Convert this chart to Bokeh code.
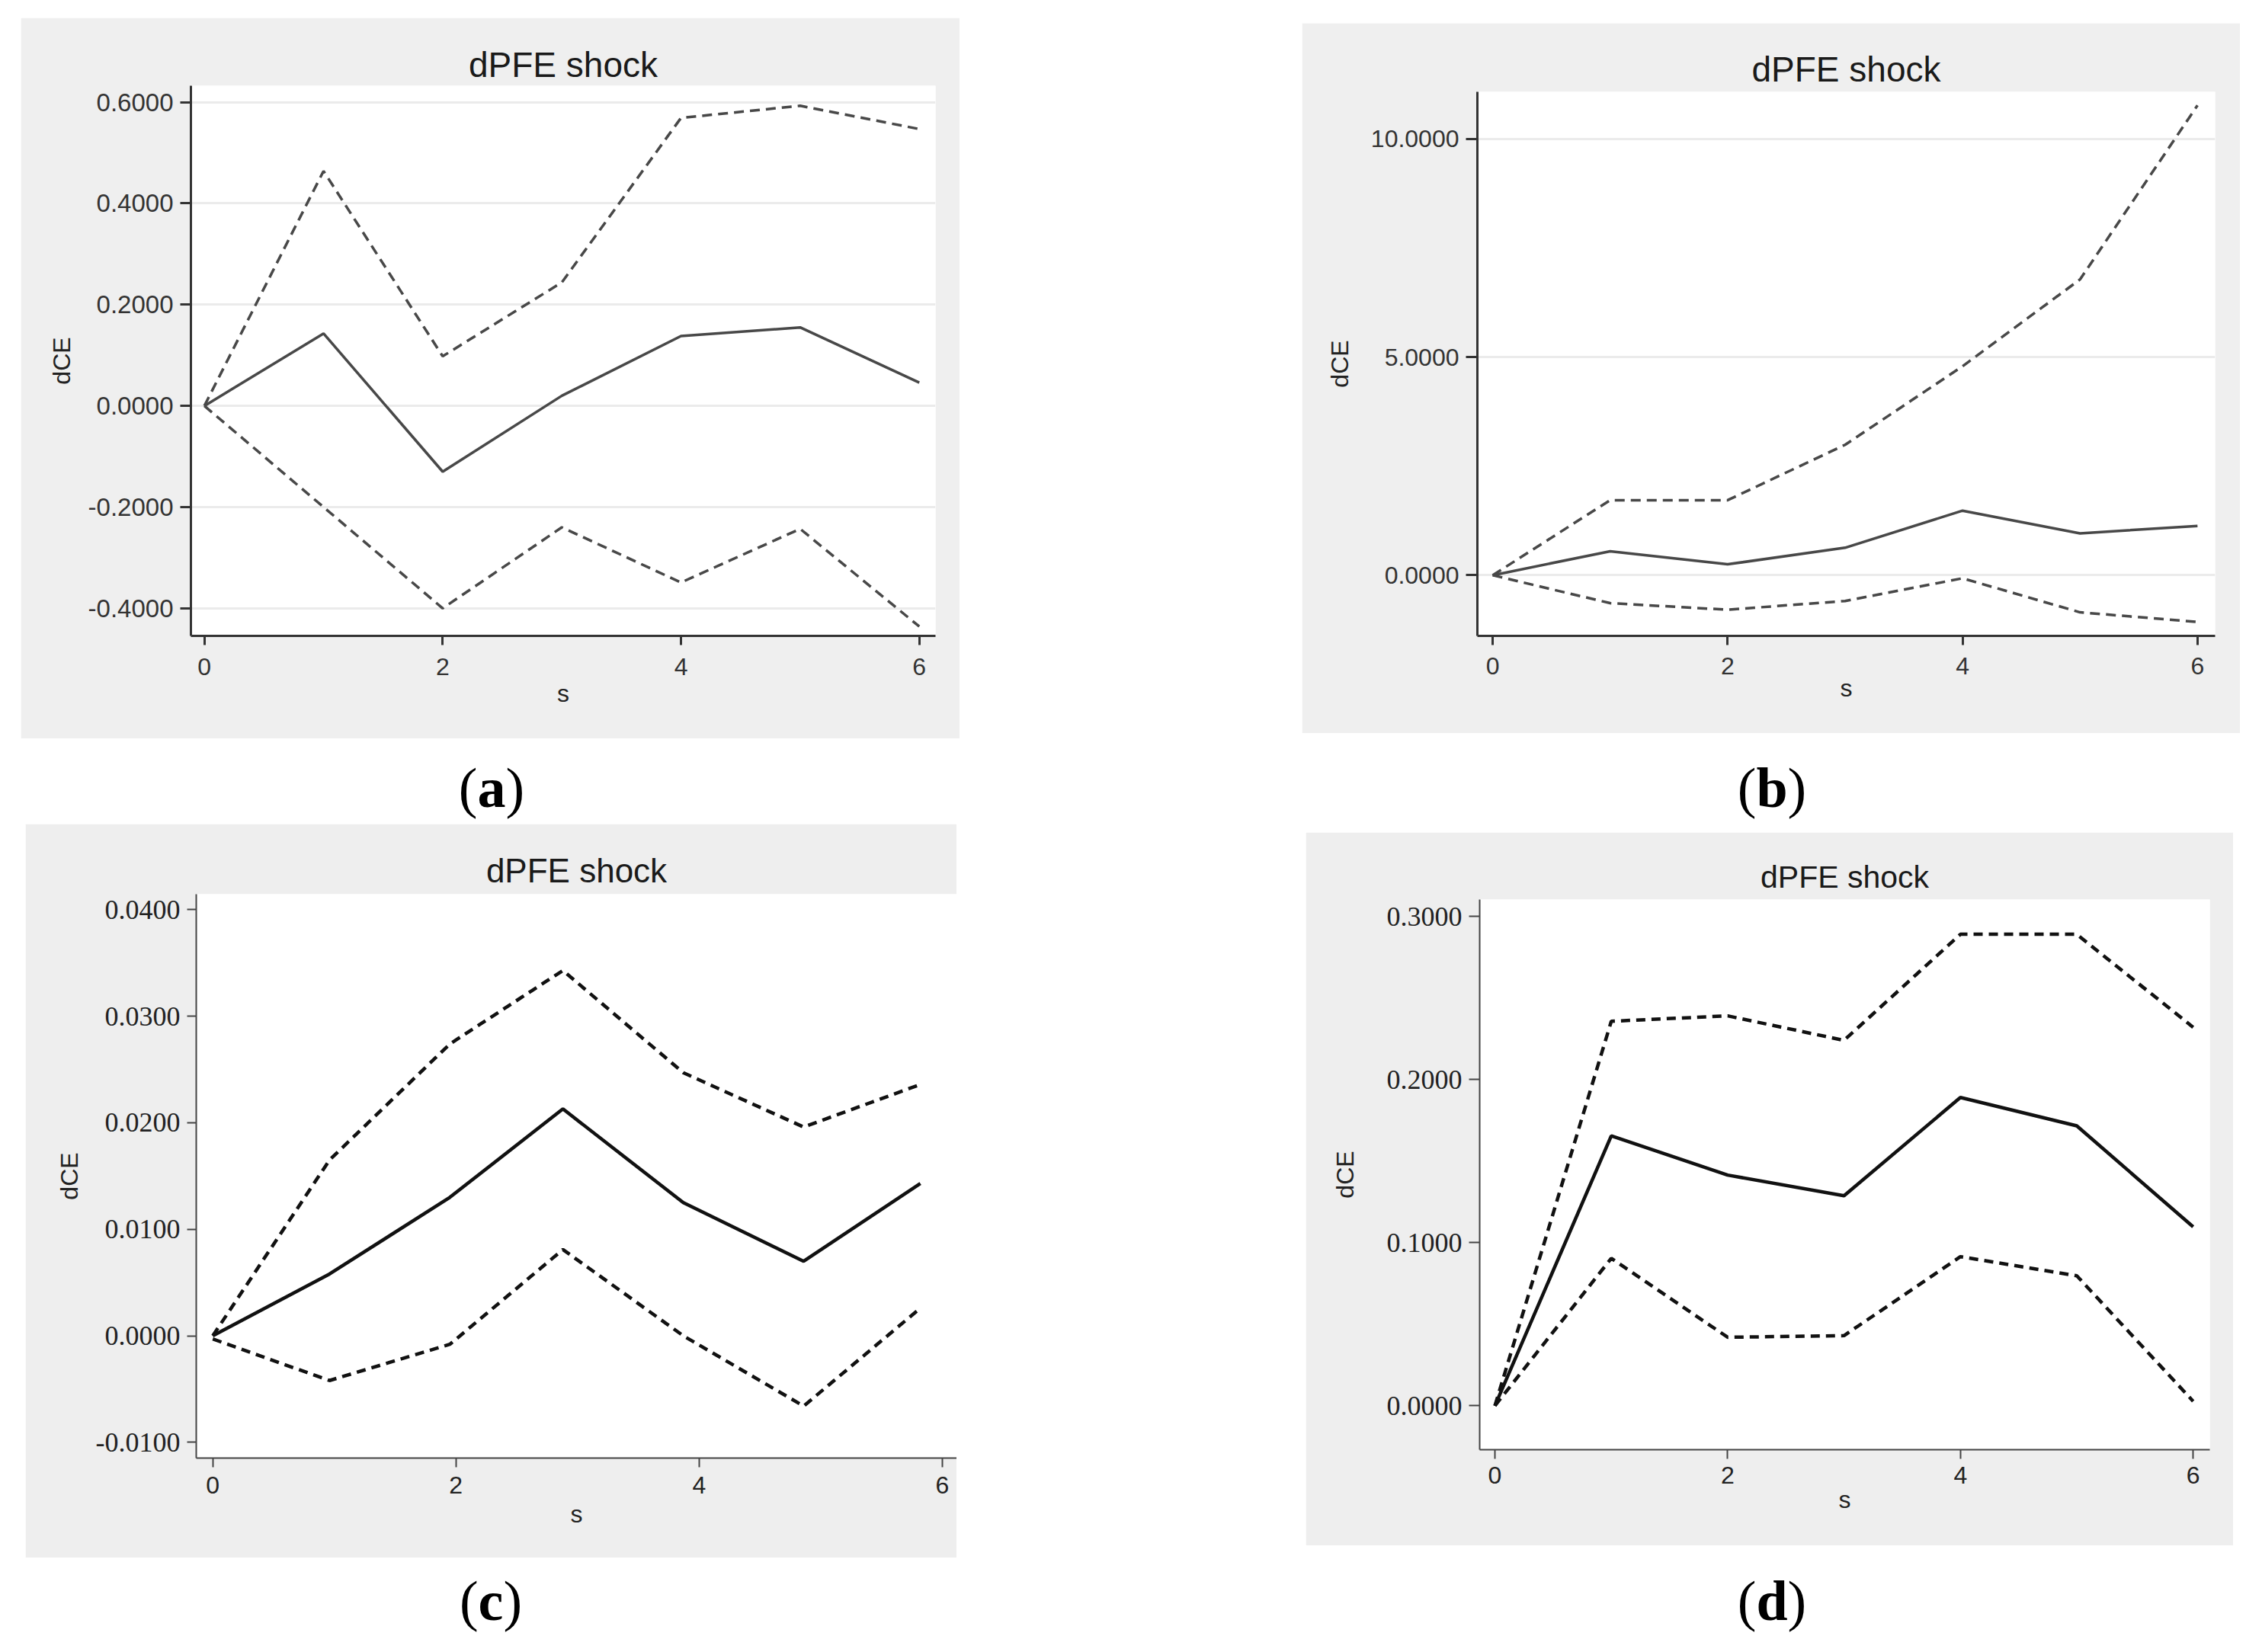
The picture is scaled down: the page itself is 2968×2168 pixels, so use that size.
from bokeh.plotting import figure
from bokeh.models import Range1d, FixedTicker, Spacer, Div
from bokeh.layouts import row, column
from bokeh.embed import file_html
from bokeh.resources import INLINE

# ---------------- data ----------------
steps = [0, 1, 2, 3, 4, 5, 6]
x_ticks = [0, 2, 4, 6]
x_labels = ["0", "2", "4", "6"]

a_irf = [0, 0.143, -0.130, 0.020, 0.138, 0.155, 0.046]
a_hi = [0, 0.464, 0.098, 0.244, 0.569, 0.593, 0.547]
a_lo = [0, -0.200, -0.400, -0.240, -0.349, -0.243, -0.436]
a_yticks = [-0.4, -0.2, 0.0, 0.2, 0.4, 0.6]
a_ylabels = ["-0.4000", "-0.2000", "0.0000", "0.2000", "0.4000", "0.6000"]

b_irf = [0, 0.55, 0.25, 0.63, 1.48, 0.96, 1.13]
b_hi = [0, 1.72, 1.72, 2.99, 4.79, 6.78, 10.77]
b_lo = [0, -0.64, -0.79, -0.59, -0.07, -0.85, -1.07]
b_yticks = [0.0, 5.0, 10.0]
b_ylabels = ["0.0000", "5.0000", "10.0000"]

c_steps = [0, 0.96, 1.95, 2.88, 3.87, 4.86, 5.82]
c_irf = [0, 0.0058, 0.0130, 0.0213, 0.0125, 0.0070, 0.0143]
c_hi = [0, 0.0165, 0.0274, 0.0343, 0.0247, 0.0196, 0.0236]
c_lo = [-0.0003, -0.0042, -0.0008, 0.0081, 0.0000, -0.0066, 0.0026]
c_yticks = [-0.01, 0.0, 0.01, 0.02, 0.03, 0.04]
c_ylabels = ["-0.0100", "0.0000", "0.0100", "0.0200", "0.0300", "0.0400"]

d_irf = [0, 0.1655, 0.1414, 0.1287, 0.189, 0.1716, 0.1097]
d_hi = [0, 0.2357, 0.239, 0.224, 0.289, 0.289, 0.232]
d_lo = [0, 0.0904, 0.042, 0.043, 0.0914, 0.0797, 0.0028]
d_yticks = [0.0, 0.1, 0.2, 0.3]
d_ylabels = ["0.0000", "0.1000", "0.2000", "0.3000"]

title_text = "dPFE shock"
x_title = "s"
y_title = "dCE"
panel_labels = ["a", "b", "c", "d"]

SANS = "Liberation Sans"
SERIF = "Liberation Serif"


def make_panel(xs, irf, hi, lo, yticks, ylabels, width, height, borders, xr, yr,
               bg, line_color, lw, dash, axis_w, axis_color, ylab_font, ylab_size,
               title_size, title_standoff, grid, ylabel_standoff, tick_out, label_color,
               xlab_standoff, xtitle_standoff):
    left, right, top, bottom = borders
    p = figure(width=width, height=height, x_range=Range1d(*xr), y_range=Range1d(*yr),
               output_backend="svg", toolbar_location=None,
               min_border_left=left, min_border_right=right,
               min_border_top=top, min_border_bottom=bottom)
    p.border_fill_color = bg
    p.background_fill_color = "white"
    p.outline_line_color = None

    p.title.text = title_text
    p.title.align = "center"
    p.title.text_font = SANS
    p.title.text_font_size = f"{title_size}px"
    p.title.text_font_style = "normal"
    p.title.text_color = "#1a1a1a"
    p.title.standoff = title_standoff

    p.xaxis.ticker = FixedTicker(ticks=x_ticks, minor_ticks=[])
    p.xaxis.major_label_overrides = {t: l for t, l in zip(x_ticks, x_labels)}
    p.yaxis.ticker = FixedTicker(ticks=yticks, minor_ticks=[])
    p.yaxis.major_label_overrides = {t: l for t, l in zip(yticks, ylabels)}

    for ax in (p.xaxis[0], p.yaxis[0]):
        ax.axis_line_width = axis_w
        ax.axis_line_color = axis_color
        ax.major_tick_line_width = axis_w
        ax.major_tick_line_color = axis_color
        ax.major_tick_in = 0
        ax.minor_tick_line_color = None
        ax.major_label_text_color = label_color
        ax.axis_label_text_font = SANS
        ax.axis_label_text_font_size = "32px"
        ax.axis_label_text_font_style = "normal"
        ax.axis_label_text_color = "#222222"
    p.xaxis.major_tick_out = 12
    p.yaxis.major_tick_out = tick_out
    p.xaxis.major_label_text_font = SANS
    p.xaxis.major_label_text_font_size = "32px"
    p.xaxis.major_label_standoff = xlab_standoff
    p.yaxis.major_label_text_font = ylab_font
    p.yaxis.major_label_text_font_size = f"{ylab_size}px"
    p.yaxis.major_label_standoff = 9
    p.xaxis.axis_label = x_title
    p.yaxis.axis_label = y_title
    p.xaxis.axis_label_standoff = xtitle_standoff
    p.yaxis.axis_label_standoff = ylabel_standoff

    p.xgrid.visible = False
    if grid:
        p.ygrid.ticker = FixedTicker(ticks=yticks, minor_ticks=[])
        p.ygrid.grid_line_color = "#ebebeb"
        p.ygrid.grid_line_width = 3
    else:
        p.ygrid.visible = False

    p.line(xs, hi, line_color=line_color, line_width=lw, line_dash=dash)
    p.line(xs, lo, line_color=line_color, line_width=lw, line_dash=dash)
    p.line(xs, irf, line_color=line_color, line_width=lw)
    return p


fa = make_panel(steps, a_irf, a_hi, a_lo, a_yticks, a_ylabels, 1232, 946,
                (223, 32, 89, 135), (-0.113, 6.136), (-0.4545, 0.6326),
                "#efefef", "#484848", 3.5, "13 8", 3, "#333333", SANS, 33, 46, 4, True, 14, 14,
                "#333333", 17, 3)
fb = make_panel(steps, b_irf, b_hi, b_lo, b_yticks, b_ylabels, 1231, 932,
                (230, 33, 90, 128), (-0.13, 6.15), (-1.39, 11.08),
                "#efefef", "#484848", 3.5, "13 8", 3, "#333333", SANS, 32, 46, 7, True, 20, 15,
                "#333333", 16, -3)
fc = make_panel(c_steps, c_irf, c_hi, c_lo, c_yticks, c_ylabels, 1222, 963,
                (224, 0, 92, 131), (-0.136, 6.12), (-0.01148, 0.04146),
                "#eeeeee", "#111111", 4.5, "12 8", 2, "#444444", SERIF, 36, 44, 14, False, 14, 12,
                "#222222", 12, 6)
fd = make_panel(steps, d_irf, d_hi, d_lo, d_yticks, d_ylabels, 1217, 936,
                (228, 31, 88, 126), (-0.131, 6.143), (-0.0269, 0.3103),
                "#eeeeee", "#111111", 4.5, "12 8", 2, "#444444", SERIF, 36, 41, 14, False, 34, 14,
                "#222222", 10, 0)


def label_div(letter, w):
    html = ('<div style="font-family: \'Liberation Serif\', serif; font-size: 74px; '
            'line-height: 1; text-align: center; color: #000; width: %dpx;">'
            '(<b>%s</b>)</div>' % (w, letter))
    return Div(text=html, width=w, height=80, margin=0)


top_row = row(Spacer(width=27), column(Spacer(height=23), fa), Spacer(width=449),
              column(Spacer(height=30), fb))
lab_row1 = row(Spacer(width=545), column(Spacer(height=28), label_div(panel_labels[0], 200)),
               Spacer(width=1480), column(Spacer(height=28), label_div(panel_labels[1], 200)))
lab_row1 = column(lab_row1, Spacer(height=4))
bot_row = row(Spacer(width=33), fc, Spacer(width=458), column(Spacer(height=11), fd))
lab_row2 = row(Spacer(width=544), column(Spacer(height=20), label_div(panel_labels[2], 200)),
               Spacer(width=1481), column(Spacer(height=20), label_div(panel_labels[3], 200)))

layout = column(top_row, lab_row1, bot_row, lab_row2)

open("out.html", "w").write(file_html(layout, INLINE))
